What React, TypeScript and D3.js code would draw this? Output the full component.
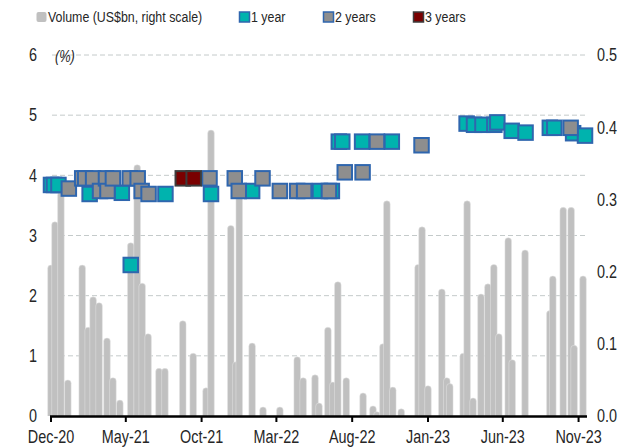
import React, { useEffect, useRef } from "react";
import * as d3 from "d3";

// volume (US$bn, right scale)
const volDates = [
  "2020-12-01", "2020-12-09", "2020-12-21", "2021-01-04", "2021-02-02", "2021-02-14", "2021-02-24", "2021-03-08",
  "2021-03-24", "2021-04-05", "2021-04-19", "2021-05-11", "2021-05-24", "2021-06-03", "2021-06-15", "2021-07-07",
  "2021-07-19", "2021-08-24", "2021-09-14", "2021-10-10", "2021-10-20", "2021-11-29", "2021-12-09", "2021-12-16",
  "2022-01-11", "2022-02-02", "2022-03-08", "2022-04-12", "2022-04-24", "2022-05-18", "2022-05-26", "2022-06-13",
  "2022-06-23", "2022-07-03", "2022-07-20", "2022-08-23", "2022-09-12", "2022-09-20", "2022-10-02", "2022-10-10",
  "2022-10-22", "2022-11-08", "2022-12-12", "2022-12-20", "2023-01-01", "2023-01-29", "2023-02-08", "2023-02-14",
  "2023-03-13", "2023-03-21", "2023-04-02", "2023-04-18", "2023-05-02", "2023-05-14", "2023-05-24", "2023-06-12",
  "2023-06-20", "2023-07-16", "2023-09-04", "2023-09-10", "2023-10-01", "2023-10-17", "2023-10-23", "2023-11-10",
];
const volValues = [
  0.209, 0.269, 0.31, 0.05, 0.209, 0.123, 0.165, 0.157,
  0.108, 0.053, 0.022, 0.24, 0.348, 0.184, 0.114, 0.066,
  0.066, 0.132, 0.087, 0.039, 0.396, 0.264, 0.075, 0.31,
  0.101, 0.0125, 0.0125, 0.082, 0.053, 0.057, 0.018, 0.123,
  0.047, 0.186, 0.053, 0.032, 0.014, 0.006, 0.1, 0.298,
  0.04, 0.01, 0.21, 0.262, 0.042, 0.176, 0.053, 0.045,
  0.087, 0.298, 0.025, 0.169, 0.183, 0.21, 0.114, 0.247,
  0.078, 0.23, 0.146, 0.194, 0.289, 0.289, 0.098, 0.194,
];

// 1 year (%)
const oneYearDates = [
  "2020-12-01", "2020-12-07", "2020-12-16", "2021-02-17", "2021-04-23", "2021-05-11", "2021-07-20", "2021-10-20",
  "2022-01-11", "2022-05-28", "2022-06-21", "2022-07-05", "2022-07-12", "2022-08-21", "2022-10-20", "2023-03-20",
  "2023-04-04", "2023-04-21", "2023-05-15", "2023-05-21", "2023-06-19", "2023-07-17", "2023-09-04", "2023-09-13",
  "2023-10-21", "2023-11-14",
];
const oneYearRates = [
  3.84, 3.84, 3.84, 3.69, 3.71, 2.51, 3.69, 3.69,
  3.74, 3.74, 3.74, 4.56, 4.56, 4.56, 4.56, 4.86,
  4.84, 4.84, 4.84, 4.88, 4.74, 4.71, 4.79, 4.79,
  4.7, 4.66,
];

// 2 years (%)
const twoYearDates = [
  "2021-01-06", "2021-02-02", "2021-02-08", "2021-02-24", "2021-03-10", "2021-03-22", "2021-03-25", "2021-04-05",
  "2021-05-09", "2021-05-25", "2021-06-02", "2021-06-16", "2021-10-17", "2021-12-07", "2021-12-15", "2022-02-01",
  "2022-03-08", "2022-04-12", "2022-04-26", "2022-06-15", "2022-07-17", "2022-08-22", "2022-09-20", "2022-12-19",
  "2023-10-16",
];
const twoYearRates = [
  3.78, 3.95, 3.95, 3.95, 3.74, 3.95, 3.74, 3.95,
  3.95, 3.95, 3.74, 3.69, 3.95, 3.95, 3.74, 3.95,
  3.74, 3.74, 3.74, 3.74, 4.05, 4.05, 4.56, 4.5,
  4.79,
];

// 3 years (%)
const threeYearDates = ["2021-08-24", "2021-09-15"];
const threeYearRates = [3.95, 3.95];

const leftTicks = [0, 1, 2, 3, 4, 5, 6];
const rightTicks = [0, 0.1, 0.2, 0.3, 0.4, 0.5];
const xTickLabels = ["Dec-20", "May-21", "Oct-21", "Mar-22", "Aug-22", "Jan-23", "Jun-23", "Nov-23"];
const legendLabels = ["Volume (US$bn, right scale)", "1 year", "2 years", "3 years"];

// no narrow font installed, so Liberation Sans gets squeezed horizontally
const FONT = "'Liberation Sans', Arial, sans-serif";
const SQUEEZE = 0.8;
const TEAL = "#00b3ae";
const GREY = "#8e8e8e";
const RED = "#7a0000";
const BLUE = "#2f66ae";
const BAR = "#c0c0c0";
const INK = "#262626";

export default function App() {
  const ref = useRef<SVGSVGElement>(null);

  useEffect(() => {
    const width = 623, height = 447;
    const svg = d3.select(ref.current);
    svg.selectAll("*").remove();
    svg.attr("width", width).attr("height", height);

    const parse = d3.timeParse("%Y-%m-%d");
    const parseTick = d3.timeParse("%b-%y");

    const x = d3.scaleTime()
      .domain([new Date(2020, 11, 1), new Date(2023, 10, 16)])
      .range([51, 586]);
    const yL = d3.scaleLinear().domain([0, 6]).range([416, 55]);
    const yR = d3.scaleLinear().domain([0, 0.5]).range([416, 55]);

    const label = (g: any, tx: number, ty: number, s: string, size: number, anchor = "start", italic = false) => {
      g.append("text")
        .attr("transform", `translate(${tx},${ty}) scale(${SQUEEZE},1)`)
        .attr("dy", "0.35em")
        .attr("text-anchor", anchor)
        .attr("font-size", size)
        .attr("font-style", italic ? "italic" : "normal")
        .text(s);
    };

    // grid
    svg.append("g")
      .selectAll("line")
      .data(leftTicks.filter(d => d > 0))
      .enter()
      .append("line")
      .attr("x1", 52).attr("x2", 585)
      .attr("y1", d => yL(d)).attr("y2", d => yL(d))
      .attr("stroke", "#c4caca")
      .attr("stroke-width", 1)
      .attr("stroke-dasharray", "5,3");

    // volume bars
    svg.append("clipPath").attr("id", "plotclip")
      .append("rect").attr("x", 0).attr("y", 0).attr("width", width).attr("height", yR(0));

    const bars = volDates.map((d, i) => ({ date: parse(d)!, v: volValues[i] }));
    const bw = 6.6;
    svg.append("g")
      .attr("clip-path", "url(#plotclip)")
      .selectAll("rect")
      .data(bars)
      .enter()
      .append("rect")
      .attr("x", d => x(d.date) - bw / 2)
      .attr("y", d => yR(d.v))
      .attr("width", bw)
      .attr("height", d => yR(0) - yR(d.v) + bw)
      .attr("rx", bw / 2)
      .attr("fill", BAR)
      .attr("stroke", "#e4e4e4")
      .attr("stroke-width", 0.5);

    // markers
    const size = 14.5;
    const drawMarkers = (dates: string[], rates: number[], fill: string, stroke: string) => {
      svg.append("g")
        .selectAll("rect")
        .data(dates.map((d, i) => ({ date: parse(d)!, v: rates[i] })))
        .enter()
        .append("rect")
        .attr("x", d => x(d.date) - size / 2)
        .attr("y", d => yL(d.v) - size / 2)
        .attr("width", size)
        .attr("height", size)
        .attr("fill", fill)
        .attr("stroke", stroke)
        .attr("stroke-width", 2);
    };
    drawMarkers(oneYearDates, oneYearRates, TEAL, BLUE);
    drawMarkers(twoYearDates, twoYearRates, GREY, BLUE);
    drawMarkers(threeYearDates, threeYearRates, RED, "#3c3c3c");

    // x axis
    const ax = svg.append("g").attr("font-family", FONT).attr("fill", INK);
    ax.append("line")
      .attr("x1", 50).attr("x2", 587)
      .attr("y1", 416.5).attr("y2", 416.5)
      .attr("stroke", "#000").attr("stroke-width", 2.5);
    const ticks = xTickLabels.map(l => ({ label: l, date: parseTick(l)! }));
    ax.selectAll("line.tick")
      .data(ticks)
      .enter()
      .append("line")
      .attr("class", "tick")
      .attr("x1", d => x(d.date)).attr("x2", d => x(d.date))
      .attr("y1", 416).attr("y2", 422)
      .attr("stroke", "#000").attr("stroke-width", 2);
    ticks.forEach(t => label(ax, x(t.date), 437, t.label, 18, "middle"));

    // y axes
    leftTicks.forEach(v => label(ax, 37, yL(v), String(v), 18, "end"));
    rightTicks.forEach(v => label(ax, 597, yR(v), d3.format(".1f")(v), 18));
    label(ax, 55, yL(6) + 1, "(%)", 16, "start", true);

    // legend
    const legendX = [36, 239, 323, 413];
    const swatch = [
      { fill: BAR, stroke: "none", rx: 2 },
      { fill: TEAL, stroke: BLUE, rx: 0 },
      { fill: GREY, stroke: BLUE, rx: 0 },
      { fill: RED, stroke: "#3c3c3c", rx: 0 },
    ];
    const lg = svg.append("g").attr("font-family", FONT).attr("fill", INK);
    legendLabels.forEach((s, i) => {
      lg.append("rect")
        .attr("x", legendX[i] + 0.5).attr("y", 12)
        .attr("width", 10).attr("height", 10)
        .attr("rx", swatch[i].rx)
        .attr("fill", swatch[i].fill)
        .attr("stroke", swatch[i].stroke)
        .attr("stroke-width", 1.5);
      label(lg, legendX[i] + 12, 17, s, 15.5);
    });
  }, []);

  return (
    <div style={{ position: "absolute", left: 0, top: 0 }}>
      <svg ref={ref} style={{ display: "block", background: "#fff" }}></svg>
    </div>
  );
}
